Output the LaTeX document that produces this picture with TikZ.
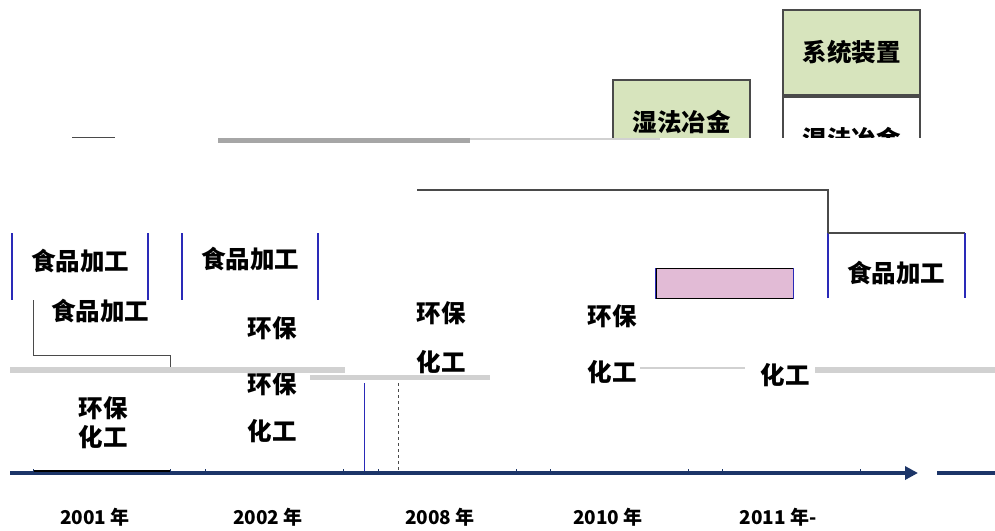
\documentclass[tikz,border=0pt]{standalone}
\usepackage{fontspec}
\newfontfamily\cjk{Noto Sans CJK SC}
\usetikzlibrary{arrows.meta}

\definecolor{navy}{HTML}{1C3568}
\definecolor{leaf}{HTML}{D7E4BD}
\definecolor{rose}{HTML}{E2BBD6}
\definecolor{edge}{HTML}{4A4A4A}
\definecolor{side}{HTML}{2A2AB8}

\begin{document}
\begin{tikzpicture}[
    x = 1pt,
    y = -1pt,
    >={Triangle[length=13pt,width=13pt]},
    word/.style = {font=\cjk\bfseries\fontsize{24.5}{28}\selectfont, inner sep=0pt},
    year/.style = {font=\cjk\bfseries\fontsize{19}{22}\selectfont, inner sep=0pt},
    greenbox/.style = {draw=edge, fill=leaf, line width=1.2pt,
              minimum width=137pt, minimum height=85pt},
    whitebox/.style = {draw=edge, fill=white, line width=1.2pt,
              minimum width=137pt, minimum height=85pt},
    band/.style = {draw=black!18, line width=5pt},
    tick/.style = {navy, line width=1pt},
    ]

\useasboundingbox (0,0) rectangle (995,530);

% boxes cut off at the top
\begin{scope}
\clip (0,0) rectangle (995,137);
\node[greenbox, word] (wet_1) at (681.5,122.5) {湿法冶金};
\node[whitebox, word] (wet_2) at (851.5,139.5) {湿法冶金};
\end{scope}
\node[greenbox, word] (sys) at (851.5,52.5) {系统装置};

% grey bands
\draw[band, draw=black!35] (218,140) -- (470,140);
\draw[band, line width=2pt] (470,139) -- (660,139);
\draw[edge, line width=1pt] (72,137) -- (115,137);

% 2001
\coordinate (f1_a) at (12,233);
\coordinate (f1_b) at (12,300);
\coordinate (f1_c) at (148,233);
\coordinate (f1_d) at (148,300);
\draw[side, line width=1.2pt] (f1_a) -- (f1_b);
\draw[side, line width=1.2pt] (f1_c) -- (f1_d);
\node[word] (food_1) at (80,261) {食品加工};
\node[word] (food_1b) at (100,311) {食品加工};
\coordinate (br_a) at (33,300);
\coordinate (br_b) at (33,355);
\coordinate (br_c) at (170,355);
\coordinate (br_d) at (170,367);
\draw[edge, line width=1pt] (br_a) -- (br_b) -- (br_c) -- (br_d);
\node[word] (env_1) at (103,408) {环保};
\node[word] (chem_1) at (103,437) {化工};

% 2002
\coordinate (f2_a) at (182,233);
\coordinate (f2_b) at (182,300);
\coordinate (f2_c) at (318,233);
\coordinate (f2_d) at (318,300);
\draw[side, line width=1.2pt] (f2_a) -- (f2_b);
\draw[side, line width=1.2pt] (f2_c) -- (f2_d);
\node[word] (food_2) at (250,259) {食品加工};
\node[word] (env_2) at (272,328) {环保};
\node[word] (env_2b) at (272,384) {环保};
\node[word] (chem_2) at (272,431) {化工};

% 2008
\coordinate (big_a) at (417,190);
\coordinate (big_b) at (828,190);
\coordinate (big_c) at (828,233);
\draw[edge, line width=1.2pt] (big_a) -- (big_b) -- (big_c);
\node[word] (env_3) at (441,313) {环保};
\node[word] (chem_3) at (441,362) {化工};
\coordinate (v1_a) at (364,383);
\coordinate (v1_b) at (364,472);
\coordinate (v2_a) at (398,383);
\coordinate (v2_b) at (398,470);
\draw[side, line width=1pt] (v1_a) -- (v1_b);
\draw[edge, line width=1pt, dashed] (v2_a) -- (v2_b);

% 2010
\node[draw=black, fill=rose, line width=1pt, minimum width=137pt,
      minimum height=30pt, inner sep=0pt] (pink) at (724.5,283) {};
\draw[side, line width=1.2pt] (pink.south west) -- (pink.north west);
\draw[side, line width=1.2pt] (pink.south east) -- (pink.north east);
\node[word] (env_4) at (612,316) {环保};
\node[word] (chem_4) at (612,372) {化工};

% 2011
\coordinate (f5_a) at (828,298);
\coordinate (f5_b) at (828,233);
\coordinate (f5_c) at (965,233);
\coordinate (f5_d) at (965,298);
\draw[side, line width=1.2pt] (f5_a) -- (f5_b);
\draw[edge, line width=1.2pt] (f5_b) -- (f5_c);
\draw[side, line width=1.2pt] (f5_c) -- (f5_d);
\node[word] (food_5) at (896,273) {食品加工};
\node[word] (chem_5) at (785,375) {化工};

% grey bands low
\draw[band, line width=6pt] (10,370) -- (345,370);
\draw[band, line width=5pt] (310,377) -- (490,377);
\draw[band, line width=2pt] (640,368) -- (745,368);
\draw[band, line width=6pt] (815,370) -- (995,370);

% time axis
\coordinate (t_start) at (10,473);
\coordinate (t_end) at (918,473);
\coordinate (t_tail_a) at (937,473);
\coordinate (t_tail_b) at (995,473);
\draw[->, navy, line width=3.5pt] (t_start) -- (t_end);
\draw[navy, line width=3.5pt] (t_tail_a) -- (t_tail_b);
\draw[black, line width=1.5pt] (33,471) -- (170,471);
\foreach \tx in {33,170,205,343,378,516,550,688,722,860}
    \draw[tick] (\tx,473) -- (\tx,469);

\node[year] (y_1) at (95,517) {2001 年};
\node[year] (y_2) at (268,517) {2002 年};
\node[year] (y_3) at (440,517) {2008 年};
\node[year] (y_4) at (608,517) {2010 年};
\node[year] (y_5) at (778,517) {2011 年-};

\end{tikzpicture}
\end{document}
